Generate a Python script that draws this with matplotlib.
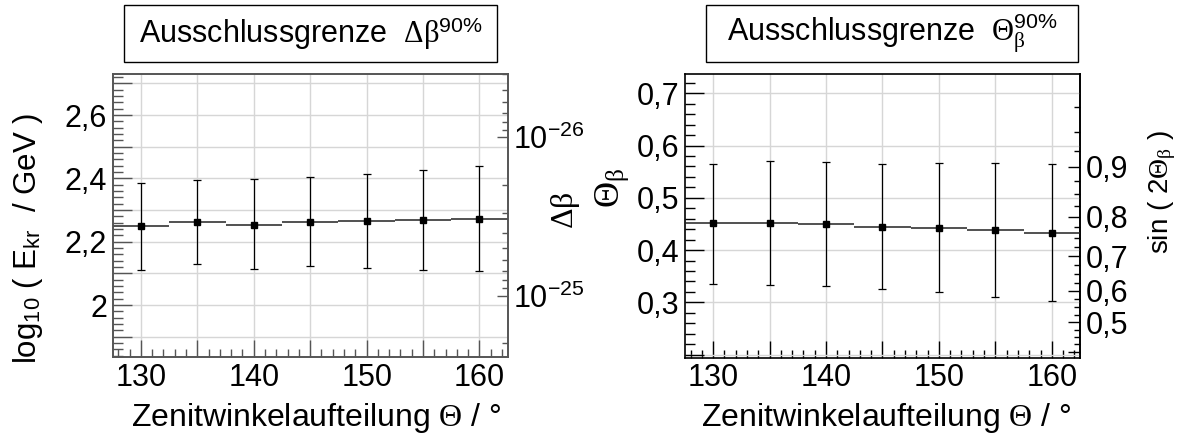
import numpy as np
import matplotlib
matplotlib.use("Agg")
import matplotlib.pyplot as plt
from matplotlib.patches import Rectangle
from matplotlib.ticker import MultipleLocator, FuncFormatter, FixedLocator, NullFormatter

plt.rcParams.update({
    "font.family": ["Liberation Sans", "DejaVu Sans"],
    "mathtext.fontset": "custom",
    "mathtext.rm": "Liberation Serif",
    "mathtext.it": "Liberation Serif:italic",
    "mathtext.bf": "Liberation Serif:bold",
    "mathtext.sf": "Liberation Sans",
    "axes.unicode_minus": False,
})

# zenith-angle bins (centres, width 5 deg)
theta_bins = [130, 135, 140, 145, 150, 155, 160]
bin_half_width = 2.5

# exclusion limit on delta-beta, expressed as log10(E_kr / GeV)
log_e = [2.250, 2.262, 2.254, 2.263, 2.266, 2.269, 2.273]
log_e_hi = [2.386, 2.395, 2.398, 2.405, 2.414, 2.427, 2.439]
log_e_lo = [2.111, 2.130, 2.113, 2.124, 2.117, 2.111, 2.108]

# exclusion limit on the mixing angle theta_beta
theta_b = [0.451, 0.452, 0.450, 0.445, 0.443, 0.438, 0.433]
theta_b_hi = [0.564, 0.570, 0.569, 0.565, 0.566, 0.566, 0.565]
theta_b_lo = [0.336, 0.334, 0.331, 0.325, 0.320, 0.311, 0.302]

# delta-beta = 10**(DB_OFFSET) / E_kr**2
DB_OFFSET = -20.94

W, H = 1191, 437
fig = plt.figure(figsize=(W / 100, H / 100), dpi=100)

TICK_FS = 22
LABEL_FS = 23
GRID = "#d6d6d6"


def px_box(x0, y0, x1, y1):
    return [x0 / W, 1 - y1 / H, (x1 - x0) / W, (y1 - y0) / H]


def comma(v, step_even=False, vmin=-np.inf):
    if v < vmin:
        return ""
    k = int(round(v * 10))
    if step_even and k % 2:
        return ""
    s = f"{v:.1f}".replace(".", ",")
    return s[:-2] if s.endswith(",0") else s


def style_x(ax):
    ax.set_xlim(127.5, 162.5)
    ax.xaxis.set_major_locator(MultipleLocator(5))
    ax.xaxis.set_minor_locator(MultipleLocator(1))
    ax.xaxis.set_major_formatter(FuncFormatter(lambda v, p: f"{v:.0f}" if round(v) % 10 == 0 else ""))
    ax.tick_params(axis="x", which="major", direction="in", length=12, width=1.0, labelsize=TICK_FS, pad=4)
    ax.tick_params(axis="x", which="minor", direction="in", length=6, width=1.0)


def style_y(ax):
    ax.yaxis.set_major_locator(MultipleLocator(0.1))
    ax.yaxis.set_minor_locator(MultipleLocator(0.02))
    ax.tick_params(axis="y", which="major", direction="in", length=14, width=1.0, labelsize=TICK_FS, pad=4)
    ax.tick_params(axis="y", which="minor", direction="in", length=7, width=1.0)


def draw_points(ax, y, lo, hi):
    y = np.asarray(y)
    yerr = [y - np.asarray(lo), np.asarray(hi) - y]
    ax.errorbar(theta_bins, y, xerr=bin_half_width, fmt="none", ecolor="#222222", elinewidth=1.1, capsize=0, zorder=3)
    ax.errorbar(theta_bins, y, yerr=yerr, fmt="s", color="black", ms=4.8, ecolor="black",
                elinewidth=0.9, capsize=3, capthick=0.9, zorder=4)


def title_box(x0, x1, text):
    fig.patches.append(Rectangle((x0 / W, 1 - 62 / H), (x1 - x0) / W, 57 / H, transform=fig.transFigure,
                                 facecolor="white", edgecolor="black", lw=1.0))
    fig.text((x0 + x1) / 2 / W, 1 - 33.5 / H, text, ha="center", va="center", fontsize=22)


# ---- left panel: delta-beta limit ----
axL = fig.add_axes(px_box(112.7, 74, 507.7, 357.3))
ylo, yhi = 1.835, 2.73
axL.set_ylim(ylo, yhi)
style_x(axL)
style_y(axL)
axL.yaxis.set_major_formatter(FuncFormatter(lambda v, p: comma(v, step_even=True)))
axL.grid(True, which="major", color=GRID, lw=1.0)
axL.set_axisbelow(True)
for sp in axL.spines.values():
    sp.set_color("#555555")
    sp.set_linewidth(1.2)
axL.tick_params(which="both", color="#555555")
draw_points(axL, log_e, log_e_lo, log_e_hi)

axT = axL.twinx()
axT.set_yscale("log")
db_bottom = 10 ** (DB_OFFSET - 2 * ylo)
db_top = 10 ** (DB_OFFSET - 2 * yhi)
axT.set_ylim(db_bottom, db_top)
decades = [-27, -26, -25, -24]
db_major = [10.0 ** e for e in decades if db_top <= 10.0 ** e <= db_bottom]
db_minor = [k * 10.0 ** e for e in decades for k in range(2, 10) if db_top <= k * 10.0 ** e <= db_bottom]
axT.yaxis.set_major_locator(FixedLocator(db_major))
axT.yaxis.set_minor_locator(FixedLocator(db_minor))
axT.yaxis.set_major_formatter(FuncFormatter(lambda v, p: r"$\mathdefault{10^{%d}}$" % round(np.log10(v))))
axT.yaxis.set_minor_formatter(NullFormatter())
axT.tick_params(axis="y", which="major", direction="in", length=8, width=1.0, labelsize=TICK_FS, pad=4, color="#555555")
axT.tick_params(axis="y", which="minor", direction="in", length=4.5, width=1.0, color="#555555")
for sp in axT.spines.values():
    sp.set_color("#555555")
    sp.set_linewidth(1.2)

# ---- right panel: theta_beta limit ----
axR = fig.add_axes(px_box(685, 74, 1080, 357.7))
axR.set_ylim(0.194, 0.737)
style_x(axR)
style_y(axR)
axR.yaxis.set_major_formatter(FuncFormatter(lambda v, p: comma(v, vmin=0.25)))
axR.grid(True, which="major", color=GRID, lw=1.0)
axR.set_axisbelow(True)
for sp in axR.spines.values():
    sp.set_linewidth(1.2)
draw_points(axR, theta_b, theta_b_lo, theta_b_hi)


def to_sin(x):
    return np.sin(2 * np.asarray(x, dtype=float))


def from_sin(s):
    return np.arcsin(np.clip(np.asarray(s, dtype=float), -1, 1)) / 2


sec = axR.secondary_yaxis("right", functions=(to_sin, from_sin))
sec.yaxis.set_major_locator(FixedLocator([0.4, 0.5, 0.6, 0.7, 0.8, 0.9]))
sec.yaxis.set_minor_locator(FixedLocator([v for v in np.arange(0.375, 1.0, 0.025)]))
sec.yaxis.set_major_formatter(FuncFormatter(lambda v, p: comma(v, vmin=0.45)))
sec.tick_params(axis="y", which="major", direction="in", length=8.5, width=1.0, labelsize=TICK_FS, pad=4)
sec.tick_params(axis="y", which="minor", direction="in", length=4.5, width=1.0)
sec.spines["right"].set_linewidth(1.2)

# ---- titles and axis labels ----
title_box(124, 497, r"Ausschlussgrenze  $\mathrm{\Delta\beta}^{\mathsf{90\%}}$")
title_box(706, 1078, r"Ausschlussgrenze  $\mathrm{\Theta}_{\mathrm{\beta}}^{\mathsf{90\%}}$")

xlab = r"Zenitwinkelaufteilung $\mathrm{\Theta}$ / °"
fig.text(316.5 / W, 1 - 418 / H, xlab, ha="center", va="center", fontsize=LABEL_FS)
fig.text(886.5 / W, 1 - 418 / H, xlab, ha="center", va="center", fontsize=LABEL_FS)
fig.text(28 / W, 1 - 238 / H, r"log$_{\mathsf{10}}$ ( E$_{\mathsf{kr}}$  / GeV )", rotation=90,
         ha="center", va="center", fontsize=22.5)
fig.text(565 / W, 1 - 210 / H, r"$\mathrm{\Delta\beta}$", rotation=90, ha="center", va="center", fontsize=LABEL_FS)
fig.text(612 / W, 1 - 188 / H, r"$\mathrm{\Theta}_{\mathrm{\beta}}$", rotation=90, ha="center", va="center", fontsize=26)
fig.text(1162 / W, 1 - 192 / H, r"sin ( 2$\mathrm{\Theta}_{\mathrm{\beta}}$ )", rotation=90,
         ha="center", va="center", fontsize=20)

fig.savefig("out.png", dpi=100)
